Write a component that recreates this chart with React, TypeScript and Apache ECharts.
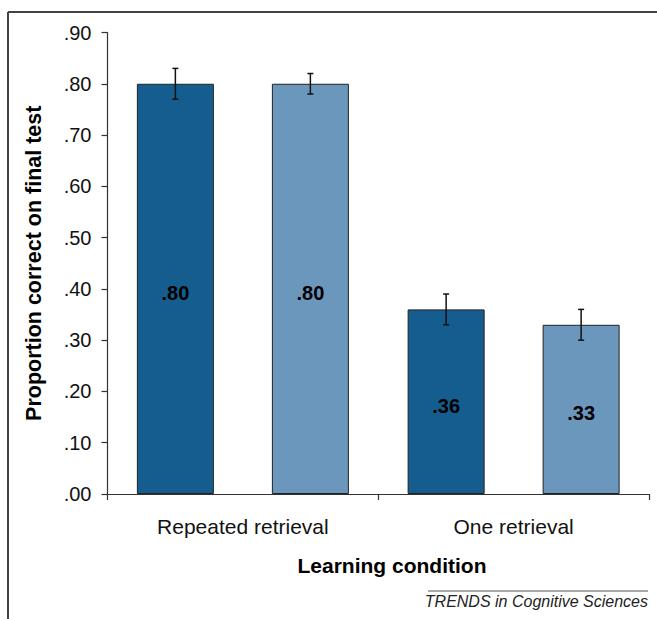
import React, { useEffect, useRef } from "react";
import * as echarts from "echarts";

const categories = ["Repeated retrieval", "One retrieval"];
const seriesNames = ["Group A", "Group B"];
const darkValues = [0.8, 0.36];
const lightValues = [0.8, 0.33];
const darkErrLow = [0.77, 0.33];
const darkErrHigh = [0.83, 0.39];
const lightErrLow = [0.78, 0.3];
const lightErrHigh = [0.82, 0.36];
const yTicks = [0, 0.1, 0.2, 0.3, 0.4, 0.5, 0.6, 0.7, 0.8, 0.9];

const FONT = "'Liberation Sans', Arial, Helvetica, sans-serif";
const BAR_W = 77;
const BAR_GAP_PX = 58;
const DARK = "#155d8e";
const LIGHT = "#6c97bd";

const fmt = (v: number) => v.toFixed(2).replace(/^0/, "");

export default function App() {
  const ref = useRef<HTMLDivElement>(null);
  useEffect(() => {
    document.body.style.margin = "0";
    const chart = echarts.init(ref.current!, null, { renderer: "svg" });
    const half = (BAR_W + BAR_GAP_PX) / 2;
    const errSeries = (low: number[], high: number[], off: number, name: string) => ({
      type: "custom",
      name,
      silent: true,
      z: 10,
      data: low.map((l, i) => [i, l, high[i]]),
      renderItem: (_p: any, api: any) => {
        const i = api.value(0);
        const lo = api.coord([i, api.value(1)]);
        const hi = api.coord([i, api.value(2)]);
        const x = lo[0] + off;
        const cap = 3;
        const style = { stroke: "#111", lineWidth: 1.5 };
        return {
          type: "group",
          children: [
            { type: "line", shape: { x1: x, y1: lo[1], x2: x, y2: hi[1] }, style },
            { type: "line", shape: { x1: x - cap, y1: lo[1], x2: x + cap, y2: lo[1] }, style },
            { type: "line", shape: { x1: x - cap, y1: hi[1], x2: x + cap, y2: hi[1] }, style },
          ],
        };
      },
    });
    const label = {
      show: true,
      position: "inside",
      offset: [0, 4],
      formatter: (p: any) => fmt(p.value),
      fontFamily: FONT,
      fontWeight: "bold",
      fontSize: 20,
      color: "#000",
    };
    chart.setOption({
      animation: false,
      textStyle: { fontFamily: FONT },
      grid: { left: 107.5, right: 8, top: 32.5, bottom: 125 },
      xAxis: {
        type: "category",
        data: categories,
        axisLine: { lineStyle: { color: "#333", width: 1.2 } },
        axisTick: { show: true, length: 6, lineStyle: { color: "#333", width: 1.2 } },
        axisLabel: { color: "#111", fontSize: 21, fontFamily: FONT, margin: 22 },
      },
      yAxis: {
        type: "value",
        min: 0,
        max: 0.9,
        interval: 0.1,
        name: "Proportion correct on final test",
        nameLocation: "middle",
        nameGap: 63,
        nameTextStyle: { fontFamily: FONT, fontWeight: "bold", fontSize: 21.5, color: "#000" },
        splitLine: { show: false },
        axisLine: { show: true, lineStyle: { color: "#333", width: 1.2 } },
        axisTick: { show: true, length: 6, lineStyle: { color: "#333", width: 1.2 } },
        axisLabel: {
          color: "#111",
          fontSize: 20,
          fontFamily: FONT,
          margin: 16,
          formatter: (v: number) => (yTicks.some((t) => Math.abs(t - v) < 1e-6) ? fmt(v) : ""),
        },
      },
      series: [
        {
          type: "bar",
          name: seriesNames[0],
          data: darkValues,
          barWidth: BAR_W,
          barGap: `${(BAR_GAP_PX / BAR_W) * 100}%`,
          itemStyle: { color: DARK, borderColor: "#222", borderWidth: 1 },
          label,
        },
        {
          type: "bar",
          name: seriesNames[1],
          data: lightValues,
          barWidth: BAR_W,
          barGap: `${(BAR_GAP_PX / BAR_W) * 100}%`,
          itemStyle: { color: LIGHT, borderColor: "#222", borderWidth: 1 },
          label,
        },
        errSeries(darkErrLow, darkErrHigh, -half, "err A"),
        errSeries(lightErrLow, lightErrHigh, half, "err B"),
      ],
      graphic: [
        { type: "line", shape: { x1: 8, y1: 12, x2: 657, y2: 12 }, style: { stroke: "#444", lineWidth: 2 } },
        { type: "line", shape: { x1: 8, y1: 12, x2: 8, y2: 619 }, style: { stroke: "#444", lineWidth: 2 } },
        {
          type: "text",
          x: 392,
          y: 565,
          style: {
            text: "Learning condition",
            fontFamily: FONT,
            fontWeight: "bold",
            fontSize: 21,
            fill: "#000",
            align: "center",
            verticalAlign: "middle",
          },
        },
        { type: "line", shape: { x1: 428, y1: 591, x2: 648, y2: 591 }, style: { stroke: "#555", lineWidth: 1 } },
        {
          type: "text",
          x: 648,
          y: 601,
          style: {
            text: "TRENDS in Cognitive Sciences",
            fontFamily: FONT,
            fontStyle: "italic",
            fontSize: 16,
            fill: "#222",
            align: "right",
            verticalAlign: "middle",
          },
        },
      ],
    });
    return () => chart.dispose();
  }, []);
  return <div ref={ref} style={{ width: 657, height: 619 }} />;
}
